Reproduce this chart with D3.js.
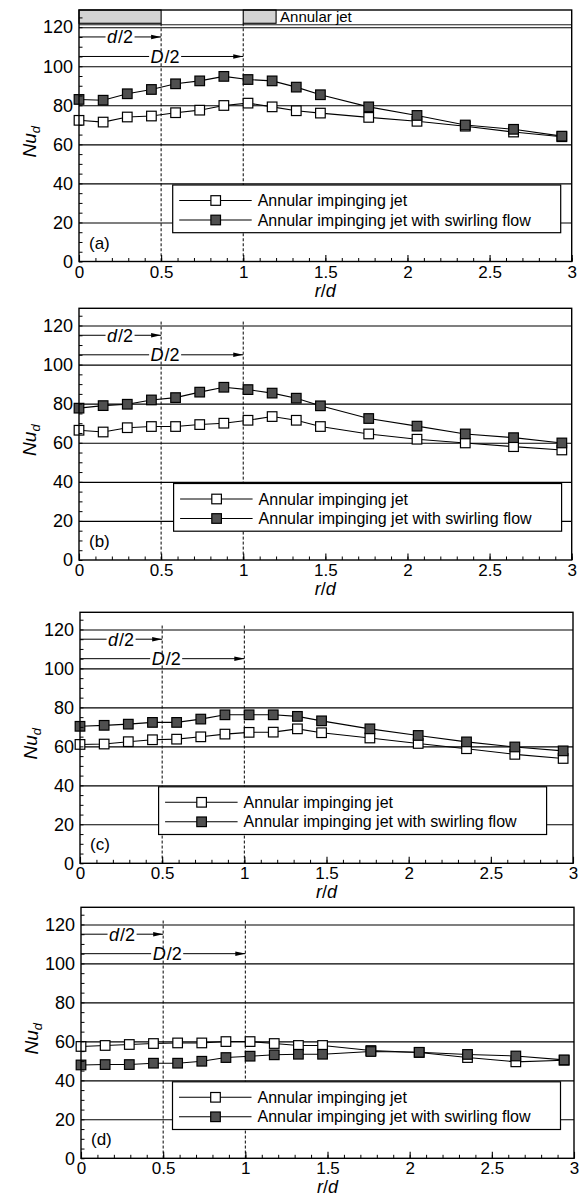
<!DOCTYPE html>
<html>
<head>
<meta charset="utf-8">
<script src="https://cdn.jsdelivr.net/npm/d3@7"></script>
<style>
  body { margin: 0; background: #fff; }
  text { font-family: "Liberation Sans", Arial, sans-serif; fill: #000; }
</style>
</head>
<body>
<div id="chart"></div>
<script>
// radial positions r/d (same for all four cases)
var rd = [0, 0.147, 0.294, 0.441, 0.588, 0.735, 0.882, 1.029, 1.176, 1.323, 1.47, 1.764, 2.058, 2.352, 2.646, 2.94];

// Nu_d, annular impinging jet
var jetA = [72.3, 71.4, 74.0, 74.5, 76.2, 77.5, 79.9, 81.1, 79.2, 77.2, 76.0, 73.8, 71.8, 69.3, 66.3, 63.9];
var jetB = [66.4, 65.5, 67.7, 68.3, 68.3, 69.3, 70.0, 71.5, 73.4, 71.5, 68.3, 64.5, 61.8, 59.9, 58.0, 56.3];
var jetC = [61.0, 61.2, 62.4, 63.4, 63.7, 64.9, 66.3, 67.2, 67.3, 69.0, 67.0, 64.3, 61.5, 58.8, 55.9, 53.8];
var jetD = [57.4, 57.9, 58.4, 58.9, 59.2, 59.2, 59.9, 59.9, 58.9, 57.9, 57.9, 55.3, 54.3, 51.7, 49.5, 50.3];

// Nu_d, annular impinging jet with swirling flow
var swirlA = [83.0, 82.6, 85.9, 88.1, 91.0, 92.5, 94.8, 93.2, 92.5, 89.3, 85.4, 79.2, 74.8, 69.9, 67.7, 64.2];
var swirlB = [77.7, 79.0, 79.7, 81.9, 83.1, 85.9, 88.4, 87.2, 85.4, 82.8, 78.9, 72.4, 68.5, 64.5, 62.6, 59.9];
var swirlC = [70.3, 70.8, 71.4, 72.3, 72.3, 74.0, 76.2, 76.2, 76.2, 75.4, 73.1, 69.0, 65.6, 62.3, 59.7, 57.7];
var swirlD = [47.9, 48.1, 48.1, 48.8, 48.8, 49.8, 51.7, 52.4, 53.1, 53.4, 53.4, 54.8, 54.4, 53.3, 52.5, 50.5];

var panelTags = ["(a)", "(b)", "(c)", "(d)"];
var legendLabels = ["Annular impinging jet", "Annular impinging jet with swirling flow"];
var xTicks = [0, 0.5, 1, 1.5, 2, 2.5, 3];
var xTickLabels = ["0", "0.5", "1", "1.5", "2", "2.5", "3"];
var yTicks = [0, 20, 40, 60, 80, 100, 120];
var yTickLabels = ["0", "20", "40", "60", "80", "100", "120"];
var gridValues = [20, 40, 60, 80, 100, 120];
var xMinor = d3.range(0, 31).map(function(i) { return i / 10; });
var yMinor = d3.range(0, 26).map(function(i) { return i * 5; });

// nozzle sketch and radius markers, in data units
var nozzleWalls = [[0, 0.5], [1, 1.2]];
var nozzleBottom = 122;
var nozzleLabel = "Annular jet";
var radiusMarks = [
  { name: "d", r: 0.5, nu: 115 },
  { name: "D", r: 1, nu: 105 }
];

var jetSeries = [jetA, jetB, jetC, jetD];
var swirlSeries = [swirlA, swirlB, swirlC, swirlD];

// layout of the four panels (pixels)
var panels = [
  { left: 79, right: 571.7, top: 10, bottom: 261.5, legX: 93.7 },
  { left: 79, right: 571.7, top: 308.3, bottom: 560, legX: 94.6 },
  { left: 80, right: 573, top: 612.3, bottom: 863.3, legX: 78.6 },
  { left: 81, right: 574, top: 907.3, bottom: 1158.3, legX: 91.5 }
];

var W = 586, H = 1200;
var darkFill = "#4f4f4f";

var svg = d3.select("#chart").append("svg")
  .attr("width", W)
  .attr("height", H);

var defs = svg.append("defs");
defs.append("marker")
  .attr("id", "arrow")
  .attr("markerUnits", "userSpaceOnUse")
  .attr("viewBox", "0 -3 10 6")
  .attr("refX", 10)
  .attr("refY", 0)
  .attr("markerWidth", 10)
  .attr("markerHeight", 6)
  .attr("orient", "auto")
  .append("path")
  .attr("d", "M0,-2.3L10,0L0,2.3Z")
  .attr("fill", "#000");

panels.forEach(function(p, k) {
  var x = d3.scaleLinear().domain([0, 3]).range([p.left, p.right]);
  var y = d3.scaleLinear().domain([0, 128.8]).range([p.bottom, p.top]);
  var g = svg.append("g");
  var pw = p.right - p.left;

  // horizontal grid
  g.append("g")
    .attr("transform", "translate(" + p.left + ",0)")
    .call(d3.axisLeft(y).tickValues(gridValues).tickSize(-pw).tickFormat(""))
    .call(function(s) {
      s.select(".domain").remove();
      s.selectAll("line").attr("stroke", "#000").attr("stroke-width", 1.1);
    });

  // nozzle sketch (panel a only)
  if (k === 0) {
    g.selectAll("rect.wall").data(nozzleWalls).enter().append("rect")
      .attr("class", "wall")
      .attr("x", function(d) { return x(d[0]); })
      .attr("y", p.top)
      .attr("width", function(d) { return x(d[1]) - x(d[0]); })
      .attr("height", y(nozzleBottom) - p.top)
      .attr("fill", "#d4d4d4")
      .attr("stroke", "#000")
      .attr("stroke-width", 1.1);
    g.append("line")
      .attr("x1", p.left).attr("x2", p.right)
      .attr("y1", y(nozzleBottom) + 1.5).attr("y2", y(nozzleBottom) + 1.5)
      .attr("stroke", "#000").attr("stroke-width", 0.9);
    g.append("text")
      .attr("x", x(nozzleWalls[1][1]) + 4)
      .attr("y", y(nozzleBottom) - 1)
      .attr("font-size", 15)
      .text(nozzleLabel);
  }

  // dashed radius lines
  g.selectAll("line.rad").data(radiusMarks).enter().append("line")
    .attr("class", "rad")
    .attr("x1", function(d) { return x(d.r); })
    .attr("x2", function(d) { return x(d.r); })
    .attr("y1", y(nozzleBottom))
    .attr("y2", p.bottom)
    .attr("stroke", "#000")
    .attr("stroke-width", 1)
    .attr("stroke-dasharray", "3,2");

  // arrows d/2, D/2
  radiusMarks.forEach(function(m) {
    g.append("line")
      .attr("x1", x(0)).attr("x2", x(m.r))
      .attr("y1", y(m.nu)).attr("y2", y(m.nu))
      .attr("stroke", "#000").attr("stroke-width", 1)
      .attr("marker-end", "url(#arrow)");
    var bg = g.append("rect").attr("fill", "#fff");
    var t = g.append("text")
      .attr("x", x(m.r / 2) + (m.name === "D" ? 4 : 0))
      .attr("y", y(m.nu))
      .attr("dy", "0.36em")
      .attr("text-anchor", "middle")
      .attr("font-size", 18);
    t.append("tspan").attr("font-style", "italic").text(m.name);
    t.append("tspan").attr("dx", 1).text("/2");
    var bb = t.node().getBBox();
    bg.attr("x", bb.x - 1.5).attr("y", y(m.nu) - 2).attr("width", bb.width + 3).attr("height", 4);
  });

  // legend box
  var legW = 388, legH = 47.7;
  var lx = p.left + p.legX, ly = p.bottom - 76.5;
  var leg = g.append("g").attr("transform", "translate(" + lx + "," + ly + ")");
  leg.append("rect")
    .attr("width", legW).attr("height", legH)
    .attr("fill", "#fff").attr("stroke", "#000").attr("stroke-width", 1.2);
  legendLabels.forEach(function(lab, i) {
    var cy = 15.5 + i * 19.5;
    leg.append("line")
      .attr("x1", 6.5).attr("x2", 79).attr("y1", cy).attr("y2", cy)
      .attr("stroke", "#000").attr("stroke-width", 1.1);
    leg.append("rect")
      .attr("x", 43 - 4.8).attr("y", cy - 4.8).attr("width", 9.6).attr("height", 9.6)
      .attr("fill", i === 0 ? "#fff" : darkFill)
      .attr("stroke", "#000").attr("stroke-width", 1.2);
    leg.append("text")
      .attr("x", 85).attr("y", cy).attr("dy", "0.35em")
      .attr("font-size", 16)
      .text(lab);
  });

  // series
  var line = d3.line()
    .x(function(d, i) { return x(rd[i]); })
    .y(function(d) { return y(d); });

  [jetSeries[k], swirlSeries[k]].forEach(function(vals, s) {
    g.append("path")
      .datum(vals)
      .attr("d", line)
      .attr("fill", "none")
      .attr("stroke", "#000")
      .attr("stroke-width", 1.1);
    g.selectAll("rect.m" + s).data(vals).enter().append("rect")
      .attr("class", "m" + s)
      .attr("x", function(d, i) { return x(rd[i]) - 4.8; })
      .attr("y", function(d) { return y(d) - 4.8; })
      .attr("width", 9.6).attr("height", 9.6)
      .attr("fill", s === 0 ? "#fff" : darkFill)
      .attr("stroke", "#000").attr("stroke-width", 1.2);
  });

  // frame
  g.append("rect")
    .attr("x", p.left).attr("y", p.top)
    .attr("width", pw).attr("height", p.bottom - p.top)
    .attr("fill", "none").attr("stroke", "#000").attr("stroke-width", 1.4);

  // x axis: inward ticks
  g.append("g")
    .attr("transform", "translate(0," + p.bottom + ")")
    .call(d3.axisBottom(x).tickValues(xMinor).tickSize(-3.5).tickFormat(""))
    .call(function(s) { s.select(".domain").remove(); s.selectAll("line").attr("stroke", "#000"); });
  g.append("g")
    .attr("transform", "translate(0," + p.bottom + ")")
    .call(d3.axisBottom(x).tickValues(xTicks).tickSize(-6.5).tickPadding(4)
      .tickFormat(function(d, i) { return xTickLabels[i]; }))
    .call(function(s) {
      s.select(".domain").remove();
      s.selectAll("line").attr("stroke", "#000").attr("stroke-width", 1.1);
      s.selectAll("text").attr("font-size", 17).attr("font-family", null).attr("fill", "#000");
    });

  // y axis: inward ticks
  g.append("g")
    .attr("transform", "translate(" + p.left + ",0)")
    .call(d3.axisLeft(y).tickValues(yMinor).tickSize(-3.5).tickFormat(""))
    .call(function(s) { s.select(".domain").remove(); s.selectAll("line").attr("stroke", "#000"); });
  g.append("g")
    .attr("transform", "translate(" + p.left + ",0)")
    .call(d3.axisLeft(y).tickValues(yTicks).tickSize(0).tickPadding(6)
      .tickFormat(function(d, i) { return yTickLabels[i]; }))
    .call(function(s) {
      s.select(".domain").remove();
      s.selectAll("text").attr("font-size", 18).attr("font-family", null).attr("fill", "#000");
    });

  // axis titles
  var xt = g.append("text")
    .attr("x", (p.left + p.right) / 2)
    .attr("y", p.bottom + 35)
    .attr("text-anchor", "middle")
    .attr("font-size", 18);
  xt.append("tspan").attr("font-style", "italic").text("r");
  xt.append("tspan").text("/");
  xt.append("tspan").attr("font-style", "italic").text("d");

  var yt = g.append("text")
    .attr("transform", "translate(" + (p.left - 43) + "," + ((p.top + p.bottom) / 2 + 6) + ") rotate(-90)")
    .attr("text-anchor", "middle")
    .attr("font-size", 19)
    .attr("font-style", "italic");
  yt.append("tspan").text("Nu");
  yt.append("tspan").attr("font-size", 13).attr("dy", 4).text("d");

  // panel tag
  g.append("text")
    .attr("x", p.left + 10)
    .attr("y", p.bottom - 13)
    .attr("font-size", 17)
    .text(panelTags[k]);
});
</script>
</body>
</html>
